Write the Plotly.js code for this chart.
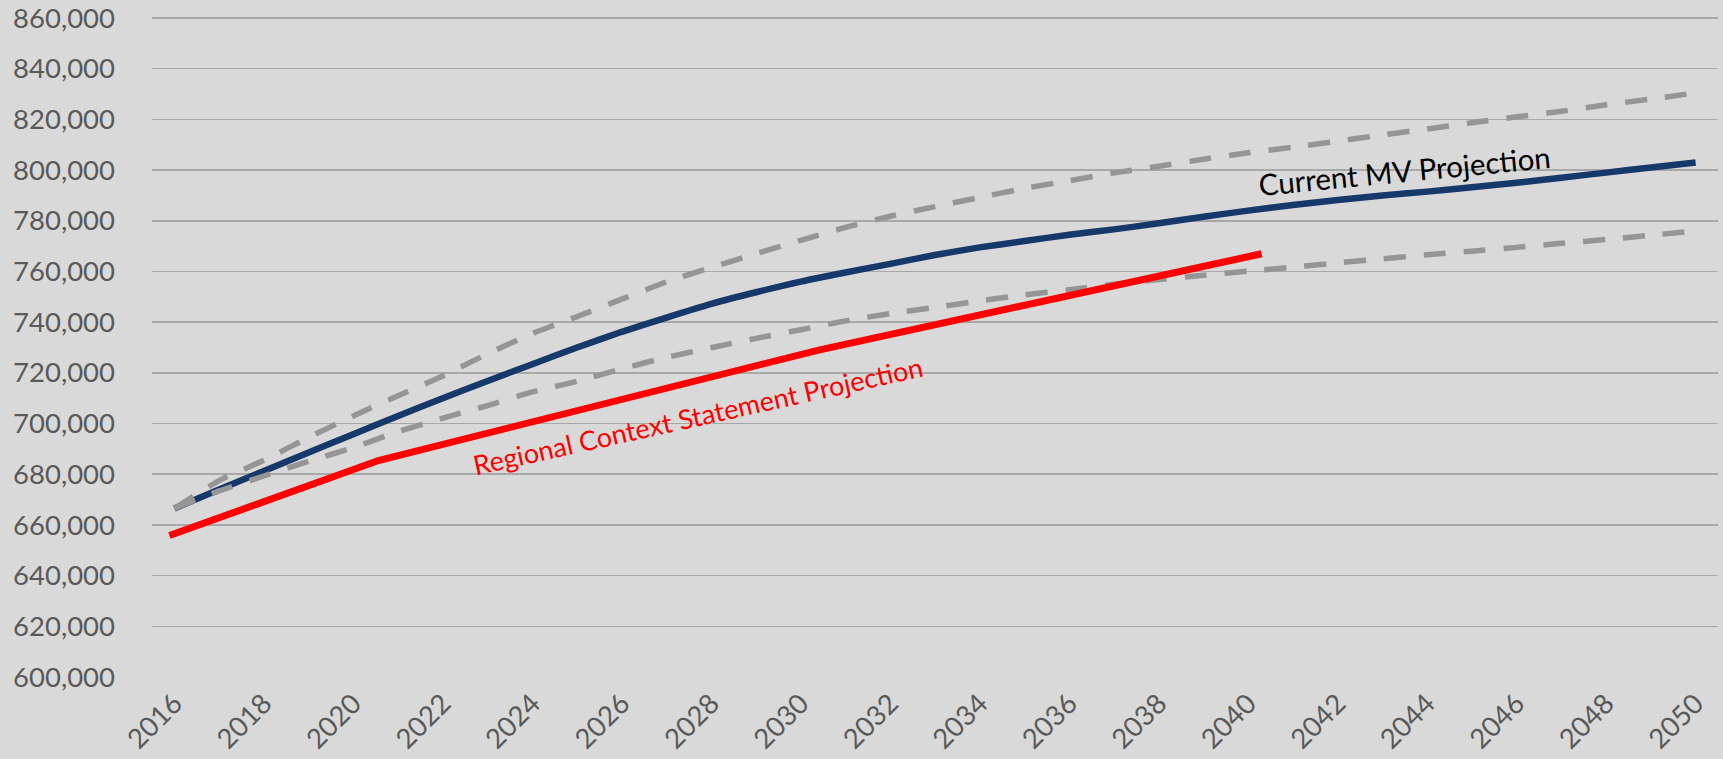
<!DOCTYPE html>
<html>
<head>
<meta charset="utf-8">
<script src="https://cdn.plot.ly/plotly-3.0.1.min.js"></script>
<style>
  html, body { margin: 0; padding: 0; background: #d9d9d9; }
  #chart { width: 1723px; height: 759px; }
</style>
</head>
<body>
<div id="chart"></div>
<script>
// ---- Data ----
const years = [2016, 2017, 2018, 2019, 2020, 2021, 2022, 2023, 2024, 2025,
               2026, 2027, 2028, 2029, 2030, 2031, 2032, 2033, 2034, 2035,
               2036, 2037, 2038, 2039, 2040, 2041, 2042, 2043, 2044, 2045,
               2046, 2047, 2048, 2049, 2050];

const currentMV = [666500, 674000, 681300, 688600, 695800, 703000, 710000, 716800, 723400, 730000,
                   736200, 741800, 747200, 751800, 756000, 759600, 763000, 766500, 769500, 772000,
                   774500, 776600, 779000, 781600, 784000, 786200, 788200, 790000, 791500, 793200,
                   795000, 797000, 799000, 801000, 803000];

const upperBound = [666500, 677500, 685500, 694500, 703000, 711000, 718800, 727500, 735500, 742200,
                    749100, 755900, 761600, 767000, 772300, 777400, 781800, 785600, 789200, 792800,
                    795800, 798900, 801500, 804300, 806800, 809000, 811400, 813900, 816200, 818700,
                    821000, 823200, 825800, 828000, 830500];

const lowerBound = [666500, 673400, 679300, 685100, 690500, 696800, 702100, 707100, 712500, 716700,
                    721600, 726100, 729900, 733600, 737000, 740500, 743400, 745800, 748400, 750800,
                    752800, 755000, 756800, 758500, 760100, 761700, 763400, 765000, 766600, 768000,
                    769500, 771100, 772600, 774300, 776000];

const rcsX = [2015.89, 2020.56, 2030.40, 2040.30];
const rcsY = [655800, 685400, 729000, 767000];

const xTickVals = [2016, 2018, 2020, 2022, 2024, 2026, 2028, 2030, 2032, 2034,
                   2036, 2038, 2040, 2042, 2044, 2046, 2048, 2050];
const xTickText = ["2016", "2018", "2020", "2022", "2024", "2026", "2028", "2030", "2032", "2034",
                   "2036", "2038", "2040", "2042", "2044", "2046", "2048", "2050"];

const yTickVals = [600000, 620000, 640000, 660000, 680000, 700000, 720000,
                   740000, 760000, 780000, 800000, 820000, 840000, 860000];

const labelMV = "Current MV Projection";
const labelRCS = "Regional Context Statement Projection";

// ---- Styles ----
const FONT = "Lato, 'Open Sans', sans-serif";
const GRAY_TXT = "#595959";

const traces = [
  { x: years, y: currentMV, type: "scatter", mode: "lines", name: "Current MV Projection",
    line: { color: "#17386a", width: 6.5, shape: "spline", smoothing: 0.6 }, hoverinfo: "x+y" },
  { x: years, y: upperBound, type: "scatter", mode: "lines", name: "Upper",
    line: { color: "#959595", width: 5.5, dash: "22px,18px", shape: "spline", smoothing: 0.6 }, hoverinfo: "x+y" },
  { x: years, y: lowerBound, type: "scatter", mode: "lines", name: "Lower",
    line: { color: "#959595", width: 5.5, dash: "22px,18px", shape: "spline", smoothing: 0.6 }, hoverinfo: "x+y" },
  { x: rcsX, y: rcsY, type: "scatter", mode: "lines", name: "Regional Context Statement Projection",
    line: { color: "#ff0000", width: 7 }, hoverinfo: "x+y" }
];

const layout = {
  width: 1723, height: 759,
  margin: { l: 152, r: 5, t: 16, b: 82, pad: 0 },
  paper_bgcolor: "#d9d9d9",
  plot_bgcolor: "#d9d9d9",
  showlegend: false,
  font: { family: FONT, size: 27.5, color: GRAY_TXT },
  xaxis: {
    range: [2015.5, 2050.5],
    tickmode: "array", tickvals: xTickVals, ticktext: xTickText,
    tickangle: -45, showgrid: false, zeroline: false, showline: false,
    ticks: "", ticklabelstandoff: 4, ticklabeloverflow: "allow",
    tickfont: { family: FONT, size: 27.5, color: GRAY_TXT }
  },
  yaxis: {
    range: [600000, 860790],
    tickmode: "array", tickvals: yTickVals,
    tickformat: ",d", showgrid: true, gridcolor: "#a8a8a8", gridwidth: 1.5,
    zeroline: false, showline: false, ticks: "", ticklabelstandoff: 36,
    ticklabelshift: -1.5, ticklabeloverflow: "allow",
    tickfont: { family: FONT, size: 27.5, color: GRAY_TXT }
  },
  annotations: [
    { x: 2043.5, y: 799800, xref: "x", yref: "y", text: labelMV, showarrow: false,
      textangle: -5.5, xanchor: "center", yanchor: "middle",
      font: { family: FONT, size: 29.5, color: "#000000" } },
    { x: 2027.71, y: 703300, xref: "x", yref: "y", text: labelRCS, showarrow: false,
      textangle: -12.5, xanchor: "center", yanchor: "middle",
      font: { family: FONT, size: 27, color: "#ff0000" } }
  ]
};

Plotly.newPlot("chart", traces, layout, { staticPlot: true, displayModeBar: false });
</script>
</body>
</html>
